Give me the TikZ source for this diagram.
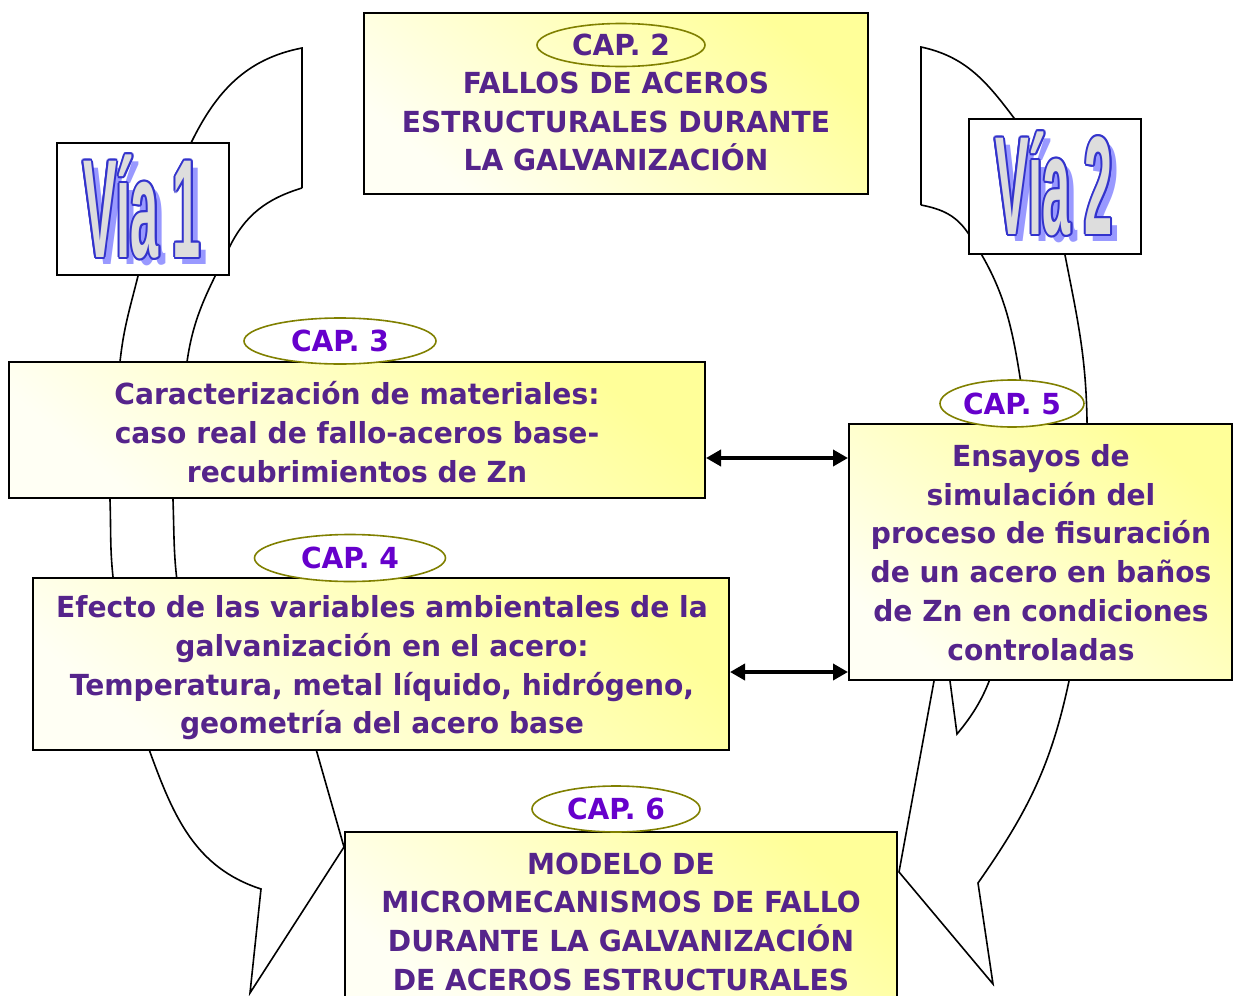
\documentclass[tikz,border=0pt]{standalone}
\usepackage{fontspec}
\setmainfont{DejaVu Sans}[FakeStretch=0.97]
\newfontfamily\viafont[FakeStretch=0.36]{Liberation Sans}
\usepackage{contour}
\contourlength{1pt}
\contournumber{12}
\usetikzlibrary{shapes.geometric,arrows.meta}

\definecolor{txtpurple}{HTML}{55248B}
\definecolor{capviolet}{HTML}{6600CC}
\definecolor{ovalolive}{HTML}{808000}
\definecolor{boxyellow}{HTML}{FFFF99}
\definecolor{boxpale}{HTML}{FFFFF4}
\definecolor{viablue}{HTML}{3333CC}
\definecolor{viashadow}{HTML}{9999FF}
\definecolor{viagrey}{HTML}{DDDDDD}

\tikzset{
  capbox/.style={draw=black, line width=1pt, inner sep=0pt,
    top color=boxyellow, bottom color=boxpale, shading angle=-40},
  captext/.style={text=txtpurple, align=center,
    font=\bfseries\fontsize{14.5}{19.35}\selectfont},
  capoval/.style={ellipse, draw=ovalolive, line width=0.8pt, fill=white,
    inner sep=0pt, text=capviolet, font=\bfseries\fontsize{14.5}{17}\selectfont},
  viabox/.style={draw=black, line width=1pt, fill=white, inner sep=0pt},
  viashd/.style={text=viashadow, font=\viafont\bfseries\fontsize{70}{70}\selectfont},
  viamain/.style={text=viagrey, font=\viafont\bfseries\fontsize{70}{70}\selectfont},
  band/.style={black, line width=0.8pt},
  biarrow/.style={<->, >={Triangle[length=7.5pt,width=8pt]}, line width=1.8pt}
}

\begin{document}
\begin{tikzpicture}[x=0.5pt, y=-0.5pt]
  \clip (0,0) rectangle (1233,996);

  % via 1 (left band)
  \draw[band] (302,188) -- (302,48)
    to[out=191, in=64] (191,143) to[out=244, in=76] (138,276)
    to[out=256, in=84] (120,362) to[out=264, in=92] (110,500)
    to[out=272, in=96] (113,577) to[out=276, in=110] (150,752)
    to[out=290, in=162] (261,889) -- (250,993) -- (344,847) -- (310,728);
  \draw[band] (302,188) to[out=197, in=64] (229,248) to[out=244, in=82] (187,362)
    to[out=262, in=92] (173,500) to[out=272, in=100] (180,600);

  % via 2 (right band)
  \draw[band] (921,205) -- (921,47)
    to[out=348, in=127] (1014,118) to[out=307, in=101] (1065,255)
    to[out=281, in=91] (1087,420) to[out=271, in=78] (1069,681)
    to[out=258, in=55] (978,883) -- (993,984) -- (899,872) -- (934,681) -- (937,665);
  \draw[band] (921,205) to[out=349, in=124] (968,233) to[out=304, in=99] (1020,377)
    to[out=279, in=95] (1026,450);
  \draw[band] (1002,640) to[out=255, in=50] (957,734) -- (950,681) -- (948,665);

  % chapter boxes
  \node[capbox, minimum width=252pt, minimum height=90.5pt] (box2) at (616,103.5) {};
  \node[capbox, minimum width=348pt, minimum height=68pt] (box3) at (357,430) {};
  \node[capbox, minimum width=348pt, minimum height=86pt] (box4) at (381,664) {};
  \node[capbox, minimum width=191.5pt, minimum height=128pt] (box5) at (1040.5,552) {};
  \node[capbox, minimum width=276pt, minimum height=89pt] (box6) at (621,921) {};

  \node[captext] (txt2) at (616,121.5) {FALLOS DE ACEROS\\ESTRUCTURALES DURANTE\\LA GALVANIZACIÓN};
  \node[captext] (txt3) at (357,432) {Caracterización de materiales:\\caso real de fallo-aceros base-\\recubrimientos de Zn};
  \node[captext] (txt4) at (382,668) {Efecto de las variables ambientales de la\\galvanización en el acero:\\Temperatura, metal líquido, hidrógeno,\\geometría del acero base};
  \node[captext] (txt5) at (1041,552.5) {Ensayos de\\simulación del\\proceso de fisuración\\de un acero en baños\\de Zn en condiciones\\controladas};
  \node[captext] (txt6) at (621,921.5) {MODELO DE\\MICROMECANISMOS DE FALLO\\DURANTE LA GALVANIZACIÓN\\DE ACEROS ESTRUCTURALES};

  % chapter labels
  \node[capoval, fill=none, text=txtpurple, minimum width=84pt, minimum height=21.5pt] (cap2) at (621,45) {CAP. 2};
  \node[capoval, minimum width=96pt, minimum height=23pt] (cap3) at (340,341) {CAP. 3};
  \node[capoval, minimum width=95.5pt, minimum height=23.5pt] (cap4) at (350,558) {CAP. 4};
  \node[capoval, minimum width=72pt, minimum height=23.5pt] (cap5) at (1012,403.5) {CAP. 5};
  \node[capoval, minimum width=84pt, minimum height=23pt] (cap6) at (616,809) {CAP. 6};

  % links between chapters
  \coordinate (a3) at ([yshift=-14pt]box3.east);
  \draw[biarrow] (a3) -- (a3 -| box5.west);
  \coordinate (a4) at ([yshift=-4pt]box4.east);
  \draw[biarrow] (a4) -- (a4 -| box5.west);

  % via labels
  \node[viabox, minimum width=86pt, minimum height=66pt] (via1) at (143,209) {};
  \node[viashd] (via1shd) at (149,214) {Vía 1};
  \node[viamain] (via1txt) at (142,208) {\contour{viablue}{Vía 1}};
  \node[viabox, minimum width=86pt, minimum height=67.5pt] (via2) at (1055,186.5) {};
  \node[viashd] (via2shd) at (1061,191) {Vía 2};
  \node[viamain] (via2txt) at (1054,185) {\contour{viablue}{Vía 2}};
\end{tikzpicture}
\end{document}
